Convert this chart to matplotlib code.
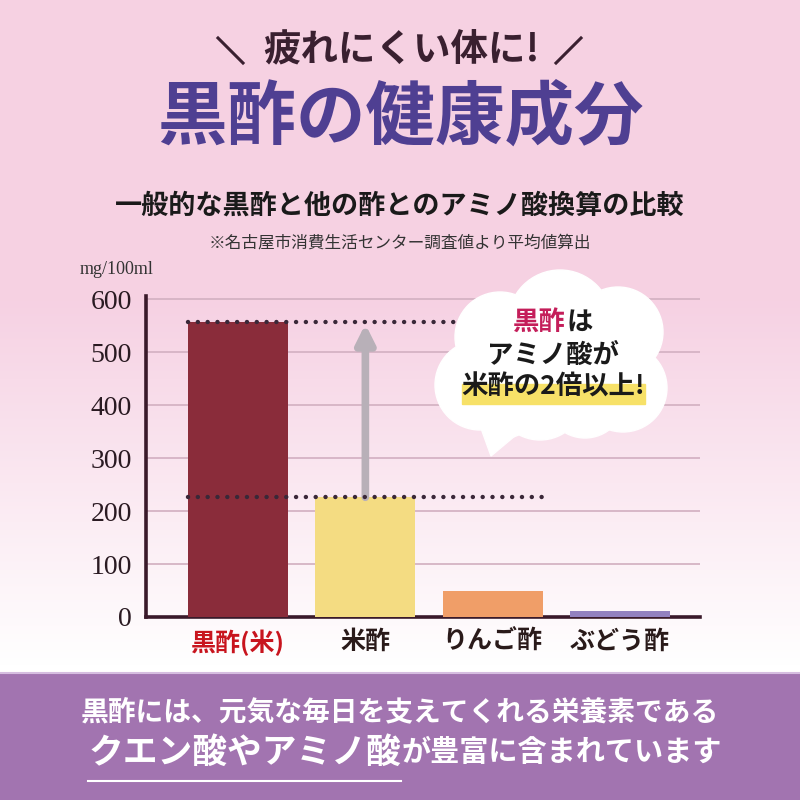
import numpy as np
import matplotlib
matplotlib.use("Agg")
import matplotlib.pyplot as plt
from matplotlib.patches import Circle, Ellipse, Polygon, Rectangle

plt.rcParams['font.family'] = ['Noto Sans CJK JP', 'DejaVu Sans']

# data
categories = ['黒酢(米)', '米酢', 'りんご酢', 'ぶどう酢']
values = [557, 226, 49, 11]
bar_colors = ['#8a2c3a', '#f4dc82', '#f09e68', '#9281c0']
label_colors = ['#c8141e', '#2a1a1a', '#2a1a1a', '#2a1a1a']
yticks = [0, 100, 200, 300, 400, 500, 600]

fig = plt.figure(figsize=(8, 8), dpi=100)

# background gradient
bg = fig.add_axes([0, 0, 1, 1], zorder=0)
rows = np.arange(800)
t = np.clip((rows - 300) / 365.0, 0, 1)
top = np.array([0.965, 0.820, 0.890])
bottom = np.array([1.0, 1.0, 1.0])
grad = top[None, :] * (1 - t[:, None]) + bottom[None, :] * t[:, None]
img = np.repeat(grad[:, None, :], 10, axis=1)
bg.imshow(img, aspect='auto', extent=(0, 800, 800, 0))
bg.set_xlim(0, 800)
bg.set_ylim(800, 0)
bg.add_patch(Rectangle((0, 673), 800, 127, color='#a274b0'))
bg.plot([0, 800], [673, 673], color='#d6bde0', lw=1.5)
bg.axis('off')

# bar chart
ax = fig.add_axes([146 / 800, 1 - 617 / 800, (700 - 146) / 800, (617 - 296) / 800], zorder=1)
ax.set_facecolor('none')
x = np.arange(len(categories))
ax.bar(x, values, width=0.787, color=bar_colors, zorder=3)
ax.set_xlim(-0.724, 3.63)
ax.set_ylim(0, 606)
ax.set_yticks(yticks)
ax.set_yticklabels([str(v) for v in yticks], family='Liberation Serif', fontsize=20, color='#2a1a22')
ax.set_xticks(x)
ax.set_xticklabels(categories, fontsize=18, fontweight='bold')
for lab, c in zip(ax.get_xticklabels(), label_colors):
    lab.set_color(c)
ax.tick_params(axis='both', length=0)
ax.tick_params(axis='y', pad=10)
ax.tick_params(axis='x', pad=9)
ax.yaxis.grid(True, color='#d5b3c4', lw=1.3, zorder=0)
ax.set_axisbelow(True)
for s in ['top', 'right']:
    ax.spines[s].set_visible(False)
for s in ['left', 'bottom']:
    ax.spines[s].set_color('#3a1a2a')
    ax.spines[s].set_linewidth(2.6)

# dotted reference lines
for v, x_end in [(values[0], 2.4), (values[1], 2.42)]:
    ax.plot([-0.39, x_end], [v, v], color='#3a2838', lw=3.2,
            linestyle=(0, (0.01, 2.2)), dash_capstyle='round', zorder=4)

ax.annotate('', xy=(1, values[0] - 4), xytext=(1, values[1]),
            arrowprops=dict(arrowstyle='-|>,head_width=0.55,head_length=1.1',
                            lw=5.5, color='#b8b0b8', shrinkA=0, shrinkB=0), zorder=3)

# overlay in pixel coords
ov = fig.add_axes([0, 0, 1, 1], zorder=2)
ov.set_facecolor('none')
ov.set_xlim(0, 800)
ov.set_ylim(800, 0)
ov.axis('off')

# cloud bubble
cloud = [(560, 322, 52), (500, 337, 45), (618, 332, 45), (480, 385, 45),
         (623, 388, 44), (540, 395, 45), (585, 398, 40), (505, 405, 33)]
for cx, cy, r in cloud:
    ov.add_patch(Circle((cx, cy), r, color='white', zorder=5))
ov.add_patch(Ellipse((555, 365), 200, 120, color='white', zorder=5))
ov.add_patch(Polygon([(478, 420), (491, 456), (528, 425)], color='white', zorder=5))

renderer = fig.canvas.get_renderer()


def place(parts, xc, y, size, weight='bold', zorder=7):
    texts = []
    for s, c in parts:
        texts.append(ov.text(0, y, s, color=c, fontsize=size, fontweight=weight,
                             ha='left', va='center', zorder=zorder))
    widths = [t.get_window_extent(renderer).width for t in texts]
    xs = xc - sum(widths) / 2
    for t, w in zip(texts, widths):
        t.set_x(xs)
        xs += w
    return texts


place([('黒酢', '#c41e5a'), ('は', '#1a1a1a')], 553, 322, 19)
place([('アミノ酸が', '#1a1a1a')], 553, 355, 19)
ov.add_patch(Rectangle((462, 384), 183, 20, color='#f7e168', zorder=6))
place([('米酢の2倍以上!', '#1a1a1a')], 553, 387, 19)

# headings
ov.plot([218, 243], [38, 63], color='#3a2030', lw=2.2)
ov.plot([556, 581], [63, 38], color='#3a2030', lw=2.2)
ov.text(401, 50, '疲れにくい体に!', fontsize=27, fontweight='bold', color='#3a2030',
        ha='center', va='center')
ov.text(400, 118, '黒酢の健康成分', fontsize=50, fontweight='bold', color='#4f3f92',
        ha='center', va='center')
ov.text(400, 206, '一般的な黒酢と他の酢とのアミノ酸換算の比較', fontsize=19.5,
        fontweight='bold', color='#1a1a1a', ha='center', va='center')
ov.text(400, 243, '※名古屋市消費生活センター調査値より平均値算出', fontsize=12,
        color='#333333', ha='center', va='center')
ov.text(80, 270, 'mg/100ml', fontsize=13, family='Liberation Serif', color='#333333',
        ha='left', va='center')

# bottom banner
ov.text(400, 712, '黒酢には、元気な毎日を支えてくれる栄養素である', fontsize=20,
        fontweight='bold', color='white', ha='center', va='center')
line2 = place([('クエン酸やアミノ酸', 'white'), ('が豊富に含まれています', 'white')],
              405, 752, 21)
line2[0].set_fontsize(25)
w0 = line2[0].get_window_extent(renderer).width
w1 = line2[1].get_window_extent(renderer).width
x0 = 405 - (w0 + w1) / 2
line2[0].set_x(x0)
line2[1].set_x(x0 + w0)
ov.plot([x0, x0 + w0], [781, 781], color='white', lw=1.5)

fig.savefig('out.png', dpi=100)
